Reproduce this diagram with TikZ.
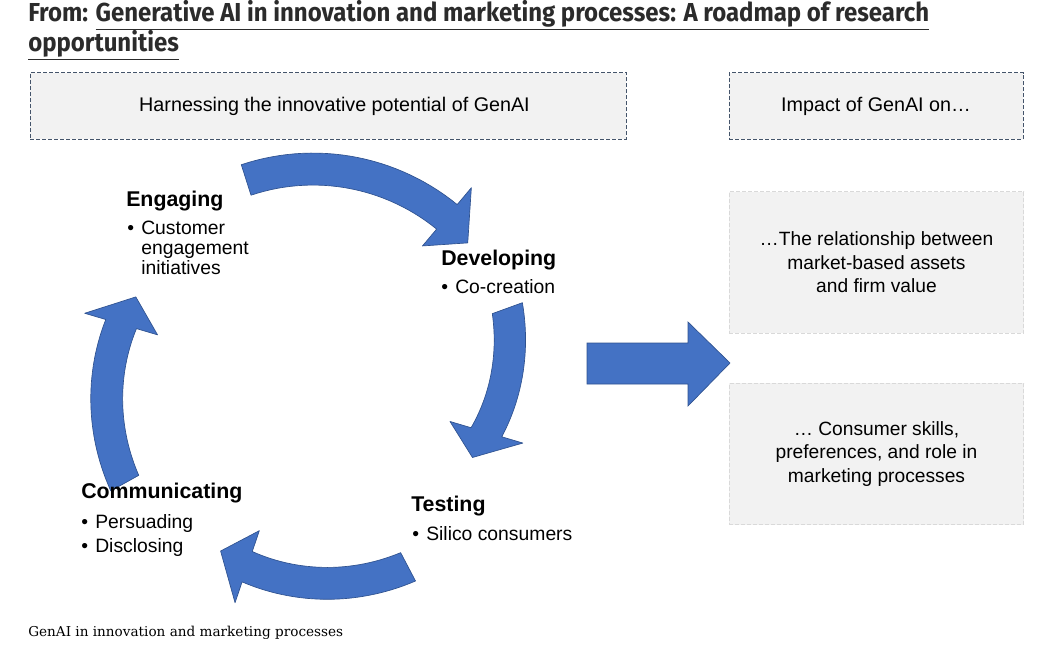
\documentclass[tikz,border=0pt]{standalone}
\usepackage{fontspec}
\setmainfont{Liberation Sans}
\newfontfamily\titlefont[FakeStretch=0.922]{Fira Sans}
\newfontfamily\capfont{DejaVu Serif}
\usetikzlibrary{positioning}

\definecolor{genblue}{HTML}{4472C4}
\definecolor{genedge}{HTML}{2F528F}
\definecolor{boxgray}{HTML}{F2F2F2}
\definecolor{boxline}{HTML}{44546A}
\definecolor{titlegray}{HTML}{2B2B2B}

\newcommand\bul{\makebox[10.5pt][l]{\textbullet}}
\newcommand\ind{\hspace*{10.5pt}}

% one bent block arrow of the cycle:
% #1 tail angle, #2 angle where the head starts, #3 radius at the tail, #4 radius at the head
\newcommand\bentarrow[4]{%
  \filldraw[cyclearrow]
    plot[domain=#1:#2, samples=30] (\x:{#3+16+(#4-(#3))*(\x-(#1))/((#2)-(#1))})
    -- (#2:#4+38) -- (#2+9:#4-4) -- (#2:#4-38) --
    plot[domain=#2:#1, samples=30] (\x:{#3-16+(#4-(#3))*(\x-(#1))/((#2)-(#1))})
    -- cycle;}

\begin{document}
\begin{tikzpicture}[x=0.75pt, y=-0.75pt,
    cyclearrow/.style={fill=genblue, draw=genedge, line width=0.5pt, line join=round},
    bigarrow/.style={fill=genblue, draw=genedge, line width=0.5pt},
    headtext/.style={font=\fontsize{16}{19}\selectfont\bfseries, inner sep=0pt, anchor=base west},
    itemtext/.style={font=\fontsize{14.5}{15}\selectfont, inner sep=0pt, anchor=base west, align=left},
    topbox/.style={draw=boxline, dash pattern=on 3pt off 1.5pt, fill=boxgray, line width=0.75pt,
      minimum height=50pt, font=\fontsize{14.8}{17}\selectfont},
    impactbox/.style={draw=black!15, dash pattern=on 3pt off 1.5pt, fill=boxgray, line width=0.75pt,
      minimum width=221pt, minimum height=106pt, align=center, font=\fontsize{14.4}{17.6}\selectfont}]
  \useasboundingbox (0,0) rectangle (1041,649);

  \node[anchor=base west, inner sep=0pt, align=left, text=titlegray,
    font=\titlefont\bfseries\fontsize{19.5}{20.25}\selectfont] (title) at (28,52)
    {From: \underline{Generative AI in innovation and marketing processes: A roadmap of research}\\
     \underline{opportunities}};

  \node[topbox, minimum width=447pt] (harness) at (328,106)
    {\raisebox{-2pt}{\hspace*{9.75pt}Harnessing the innovative potential of GenAI}};
  \node[topbox, minimum width=220.5pt] (impact) at (876,106) {\raisebox{-2pt}{Impact of GenAI on…}};

  \node[impactbox] (assets) at (876.5,262.5) {…The relationship between\\market-based assets\\and firm value};
  \node[impactbox] (skills) at (876.5,454) {… Consumer skills,\\preferences, and role in\\marketing processes};

  % the cycle
  \begin{scope}[shift={(310,380)}]
    \bentarrow{-107.7}{-50}{210}{213}
    \bentarrow{-20}{16.5}{210}{184}
    \bentarrow{62.3}{108.6}{211}{197}
    \bentarrow{150.9}{196.5}{212}{197}
  \end{scope}

  \filldraw[bigarrow] (587,343) -- (688,343) -- (688,322) -- (730,363)
    -- (688,406) -- (688,384) -- (587,384) -- cycle;

  \node[headtext] (engaging) at (126,206) {Engaging};
  \node[itemtext] (engagingitems) at (127,274) {\bul Customer\\\ind engagement\\\ind initiatives};
  \node[headtext] (developing) at (441,265) {Developing};
  \node[itemtext] (developingitems) at (441,293) {\bul Co-creation};
  \node[headtext] (testing) at (411,511) {Testing};
  \node[itemtext] (testingitems) at (412,540) {\bul Silico consumers};
  \node[headtext] (communicating) at (81,498) {Communicating};
  \node[itemtext] (communicatingitems) at (81,552) {\bul Persuading\\[3pt]\bul Disclosing};

  \node[anchor=base west, inner sep=0pt, font=\capfont\fontsize{10.2}{12}\selectfont] (caption)
    at (28,636) {GenAI in innovation and marketing processes};
\end{tikzpicture}
\end{document}
